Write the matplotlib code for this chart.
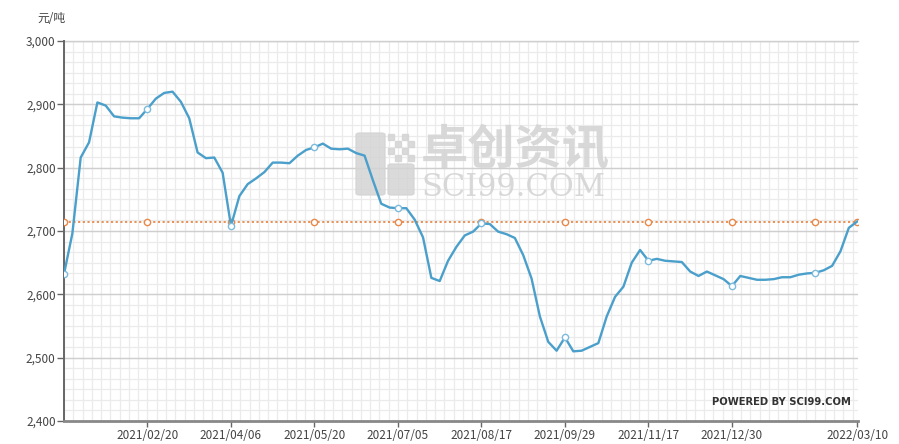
import matplotlib
matplotlib.use("Agg")
import matplotlib.pyplot as plt
from matplotlib.patches import Rectangle, FancyBboxPatch

plt.rcParams['font.family'] = ['Noto Sans CJK SC', 'DejaVu Sans']

# 价格 (元/吨), 每点约3个交易日
price = [2632, 2696, 2816, 2840, 2903, 2898, 2881, 2879, 2878, 2878,
         2893, 2909, 2918, 2920, 2904, 2878, 2824, 2815, 2816, 2792,
         2708, 2755, 2774, 2783, 2793, 2808, 2808, 2807, 2819, 2828,
         2832, 2838, 2830, 2829, 2830, 2823, 2819, 2780, 2743, 2737,
         2736, 2736, 2718, 2690, 2626, 2621, 2653, 2675, 2693, 2699,
         2712, 2711, 2699, 2695, 2689, 2662, 2625, 2565, 2525, 2511,
         2532, 2510, 2511, 2517, 2523, 2565, 2596, 2612, 2650, 2670,
         2653, 2656, 2653, 2652, 2651, 2636, 2629, 2636, 2630, 2624,
         2613, 2629, 2626, 2623, 2623, 2624, 2627, 2627, 2631, 2633,
         2634, 2638, 2645, 2668, 2705, 2715]
avg_price = 2715

tick_pos = [10, 20, 30, 40, 50, 60, 70, 80, 95]
tick_labels = ['2021/02/20', '2021/04/06', '2021/05/20', '2021/07/05', '2021/08/17',
               '2021/09/29', '2021/11/17', '2021/12/30', '2022/03/10']
y_ticks = [2400, 2500, 2600, 2700, 2800, 2900, 3000]

W, H = 899, 444
fig = plt.figure(figsize=(W / 100, H / 100), dpi=100)
ax = fig.add_axes([64 / W, 1 - 421 / H, (858 - 64) / W, (421 - 41) / H])

n = len(price)
x = list(range(n))
mark_idx = list(range(0, n, 10)) + [n - 1]

# 背景网格
minor_x = [i * 10 / 9 for i in range(int(n * 0.9) + 2)]
for v in minor_x:
    ax.axvline(v, color='#ebebeb', lw=0.9, zorder=0)
for k in range(37):
    ax.axhline(2400 + k * 100 / 6, color='#ebebeb', lw=0.9, zorder=0)
for v in y_ticks[1:]:
    ax.axhline(v, color='#cfcfcf', lw=1.0, zorder=1)

# 水印 (在线的下面)
wm = '#d4d4d4'
tf = fig.transFigure
def px(xp, yp):
    return xp / W, 1 - yp / H
ax.add_patch(FancyBboxPatch(px(356, 195), 29 / W, 62 / H, boxstyle='round,pad=0,rounding_size=0.004',
                            transform=tf, color=wm, alpha=0.85, zorder=2, clip_on=False))
ax.add_patch(FancyBboxPatch(px(388, 195), 26 / W, 31 / H, boxstyle='round,pad=0,rounding_size=0.004',
                            transform=tf, color=wm, alpha=0.85, zorder=2, clip_on=False))
for sx, sy in [(388, 134), (402, 134), (395, 141), (408, 141), (388, 148), (402, 148), (408, 155), (395, 155)]:
    ax.add_patch(Rectangle(px(sx, sy + 6), 6 / W, 6 / H, transform=tf,
                           color=wm, alpha=0.85, zorder=2, clip_on=False))
ax.text(*px(421, 150), '卓创资讯', fontsize=34, color=wm, alpha=0.9, va='center', ha='left',
        fontweight='bold', transform=tf, zorder=2)
ax.text(*px(422, 187), 'SCI99.COM', fontsize=22, color=wm, alpha=0.9, va='center', ha='left',
        family='DejaVu Serif', transform=tf, zorder=2)

# 均值线和价格线
ax.plot(x, [avg_price] * n, color='#E8884A', lw=1.3, ls=(0, (1.2, 1.4)), zorder=3)
ax.plot(mark_idx, [avg_price] * len(mark_idx), ls='none', marker='o', ms=4.5,
        mfc='white', mec='#E8884A', mew=1.0, zorder=4)
ax.plot(x, price, color='#4A9FCB', lw=1.7, zorder=5)
ax.plot(mark_idx[:-1], [price[i] for i in mark_idx[:-1]], ls='none', marker='o', ms=4.5,
        mfc='white', mec='#7DBBDC', mew=1.0, zorder=6)

ax.set_xlim(0, n - 0.9)
ax.set_ylim(2400, 3000)
ax.set_yticks(y_ticks)
ax.set_yticklabels([f'{v:,}' for v in y_ticks])
ax.set_xticks(tick_pos)
ax.set_xticklabels(tick_labels)
ax.tick_params(axis='y', length=5, width=1, color='#666666', labelsize=8.5, labelcolor='#444444', pad=1)
ax.tick_params(axis='x', length=4, width=1, color='#666666', labelsize=8.5, labelcolor='#444444', pad=2)

for s in ['top', 'right']:
    ax.spines[s].set_visible(False)
ax.spines['left'].set_color('#666666')
ax.spines['left'].set_linewidth(1.4)
ax.spines['bottom'].set_color('#888888')
ax.spines['bottom'].set_linewidth(2)
ax.axhline(3000, color='#cfcfcf', lw=1.0, zorder=1, clip_on=False)

fig.text(*px(37, 18), '元/吨', fontsize=8.5, color='#444444', va='center', ha='left')
fig.text(*px(712, 402), 'POWERED BY SCI99.COM', fontsize=7.2, color='#333333', va='center',
         ha='left', fontweight='bold', family='DejaVu Sans')

fig.savefig('out.png', dpi=100)
